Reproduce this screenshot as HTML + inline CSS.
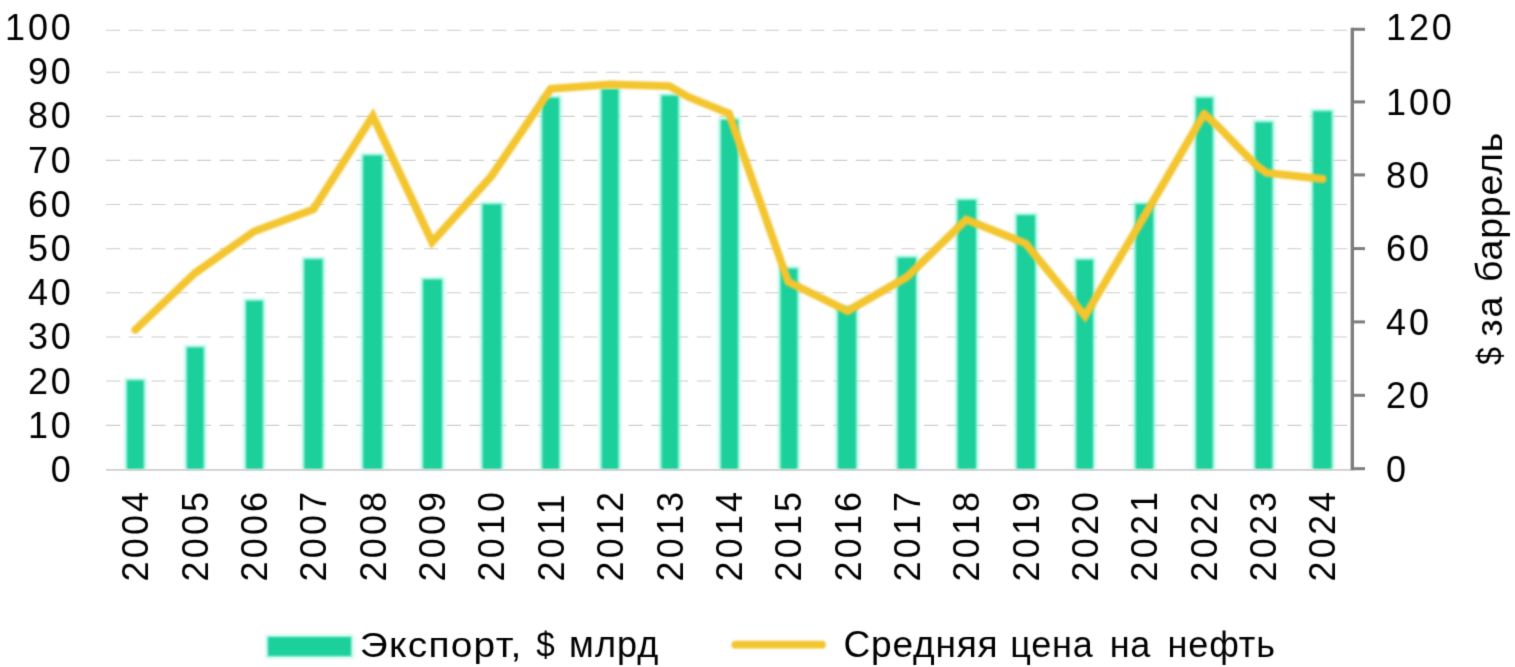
<!DOCTYPE html>
<html><head><meta charset="utf-8"><title>chart</title>
<style>html,body{margin:0;padding:0;background:#fff;overflow:hidden}svg text{font-family:"Liberation Sans", sans-serif}</style></head>
<body>
<svg width="1515" height="667" viewBox="0 0 1515 667" style="display:block">
<rect width="1515" height="667" fill="#fff"/>
<defs><filter id="bg" x="-2%" y="-2%" width="104%" height="104%"><feConvolveMatrix order="3" kernelMatrix="0 1 0 1 4 1 0 1 0" divisor="8" edgeMode="duplicate" preserveAlpha="false"/></filter><filter id="bh" x="-2%" y="-2%" width="104%" height="104%"><feGaussianBlur stdDeviation="1.7"/></filter><filter id="bb" x="-2%" y="-2%" width="104%" height="104%"><feGaussianBlur stdDeviation="0.8"/></filter><filter id="bt" x="-2%" y="-5%" width="104%" height="110%"><feConvolveMatrix order="3" kernelMatrix="0 1 0 1 4 1 0 1 0" divisor="8" edgeMode="duplicate" preserveAlpha="false"/></filter></defs>
<g filter="url(#bg)">
<line x1="106.0" y1="425.3" x2="1350.8" y2="425.3" stroke="#cdcdcd" stroke-width="1.15" stroke-dasharray="14.2 8.52"/>
<line x1="106.0" y1="381.0" x2="1350.8" y2="381.0" stroke="#cdcdcd" stroke-width="1.15" stroke-dasharray="14.2 8.52"/>
<line x1="106.0" y1="337.0" x2="1350.8" y2="337.0" stroke="#cdcdcd" stroke-width="1.15" stroke-dasharray="14.2 8.52"/>
<line x1="106.0" y1="292.7" x2="1350.8" y2="292.7" stroke="#cdcdcd" stroke-width="1.15" stroke-dasharray="14.2 8.52"/>
<line x1="106.0" y1="248.7" x2="1350.8" y2="248.7" stroke="#cdcdcd" stroke-width="1.15" stroke-dasharray="14.2 8.52"/>
<line x1="106.0" y1="204.5" x2="1350.8" y2="204.5" stroke="#cdcdcd" stroke-width="1.15" stroke-dasharray="14.2 8.52"/>
<line x1="106.0" y1="160.3" x2="1350.8" y2="160.3" stroke="#cdcdcd" stroke-width="1.15" stroke-dasharray="14.2 8.52"/>
<line x1="106.0" y1="116.3" x2="1350.8" y2="116.3" stroke="#cdcdcd" stroke-width="1.15" stroke-dasharray="14.2 8.52"/>
<line x1="106.0" y1="72.2" x2="1350.8" y2="72.2" stroke="#cdcdcd" stroke-width="1.15" stroke-dasharray="14.2 8.52"/>
<line x1="106.0" y1="30.2" x2="1350.8" y2="30.2" stroke="#cdcdcd" stroke-width="1.15" stroke-dasharray="14.2 8.52"/>
</g>
<g filter="url(#bh)" fill="#a0f5e0" fill-opacity="0.8">
<rect x="124.50" y="378.20" width="21.70" height="90.80"/>
<rect x="184.40" y="345.20" width="21.70" height="123.80"/>
<rect x="243.50" y="298.60" width="21.70" height="170.40"/>
<rect x="301.80" y="257.00" width="23.20" height="212.00"/>
<rect x="360.70" y="153.20" width="23.90" height="315.80"/>
<rect x="420.60" y="277.20" width="23.90" height="191.80"/>
<rect x="480.10" y="202.00" width="23.70" height="267.00"/>
<rect x="539.80" y="95.60" width="21.80" height="373.40"/>
<rect x="599.20" y="86.80" width="21.70" height="382.20"/>
<rect x="659.00" y="93.40" width="21.70" height="375.60"/>
<rect x="718.40" y="117.60" width="22.00" height="351.40"/>
<rect x="778.10" y="266.40" width="21.70" height="202.60"/>
<rect x="835.40" y="305.60" width="23.20" height="163.40"/>
<rect x="895.20" y="255.40" width="23.20" height="213.60"/>
<rect x="955.20" y="197.80" width="23.30" height="271.20"/>
<rect x="1014.30" y="212.90" width="23.30" height="256.10"/>
<rect x="1073.80" y="257.60" width="21.70" height="211.40"/>
<rect x="1133.20" y="201.90" width="22.50" height="267.10"/>
<rect x="1193.60" y="95.60" width="21.60" height="373.40"/>
<rect x="1252.70" y="120.00" width="22.00" height="349.00"/>
<rect x="1310.60" y="109.00" width="23.60" height="360.00"/>
<rect x="265.8" y="634.8" width="87.4" height="23.4"/>
</g>
<g filter="url(#bb)">
<rect x="126.95" y="380.4" width="16.80" height="88.80" fill="#1fd09b"/>
<rect x="186.85" y="347.4" width="16.80" height="121.80" fill="#1fd09b"/>
<rect x="245.95" y="300.8" width="16.80" height="168.40" fill="#1fd09b"/>
<rect x="304.25" y="259.2" width="18.30" height="210.00" fill="#1fd09b"/>
<rect x="363.15" y="155.4" width="19.00" height="313.80" fill="#1fd09b"/>
<rect x="423.05" y="279.4" width="19.00" height="189.80" fill="#1fd09b"/>
<rect x="482.55" y="204.2" width="18.80" height="265.00" fill="#1fd09b"/>
<rect x="542.25" y="97.8" width="16.90" height="371.40" fill="#1fd09b"/>
<rect x="601.65" y="89.0" width="16.80" height="380.20" fill="#1fd09b"/>
<rect x="661.45" y="95.6" width="16.80" height="373.60" fill="#1fd09b"/>
<rect x="720.85" y="119.8" width="17.10" height="349.40" fill="#1fd09b"/>
<rect x="780.55" y="268.6" width="16.80" height="200.60" fill="#1fd09b"/>
<rect x="837.85" y="307.8" width="18.30" height="161.40" fill="#1fd09b"/>
<rect x="897.65" y="257.6" width="18.30" height="211.60" fill="#1fd09b"/>
<rect x="957.65" y="200.0" width="18.40" height="269.20" fill="#1fd09b"/>
<rect x="1016.75" y="215.1" width="18.40" height="254.10" fill="#1fd09b"/>
<rect x="1076.25" y="259.8" width="16.80" height="209.40" fill="#1fd09b"/>
<rect x="1135.65" y="204.1" width="17.60" height="265.10" fill="#1fd09b"/>
<rect x="1196.05" y="97.8" width="16.70" height="371.40" fill="#1fd09b"/>
<rect x="1255.15" y="122.2" width="17.10" height="347.00" fill="#1fd09b"/>
<rect x="1313.05" y="111.2" width="18.70" height="358.00" fill="#1fd09b"/>
</g>
<g filter="url(#bg)">
<line x1="106.0" y1="469.8" x2="1352.3" y2="469.8" stroke="#cdcdcd" stroke-width="1.7"/>
<line x1="1352.3" y1="27.8" x2="1352.3" y2="470.2" stroke="#7e7e7e" stroke-width="3.4"/>
<line x1="1352.3" y1="468.7" x2="1365" y2="468.7" stroke="#7e7e7e" stroke-width="3"/>
<line x1="1352.3" y1="395.3" x2="1365" y2="395.3" stroke="#7e7e7e" stroke-width="3"/>
<line x1="1352.3" y1="321.9" x2="1365" y2="321.9" stroke="#7e7e7e" stroke-width="3"/>
<line x1="1352.3" y1="248.6" x2="1365" y2="248.6" stroke="#7e7e7e" stroke-width="3"/>
<line x1="1352.3" y1="174.9" x2="1365" y2="174.9" stroke="#7e7e7e" stroke-width="3"/>
<line x1="1352.3" y1="101.9" x2="1365" y2="101.9" stroke="#7e7e7e" stroke-width="3"/>
<line x1="1352.3" y1="29.3" x2="1365" y2="29.3" stroke="#7e7e7e" stroke-width="3"/>
</g>
<g filter="url(#bb)">
<polyline points="135.3,329.8 194.7,273.2 254.1,231.4 313.4,209.3 372.8,116.0 432.1,242.0 491.5,176.0 550.8,88.8 610.1,84.4 669.5,86.2 688.0,96.8 728.9,113.5 788.2,281.8 847.6,311.0 906.9,277.0 966.2,219.6 1025.6,243.4 1085.0,316.0 1144.3,216.2" fill="none" stroke="#f3c52e" stroke-width="7.8" stroke-linejoin="miter" stroke-miterlimit="6" stroke-linecap="round"/>
<polyline points="1144.3,216.2 1204.2,113.8 1219.4,127.6 1241.0,150.0 1258.0,166.8 1266.5,172.8 1322.6,179.0" fill="none" stroke="#f3c52e" stroke-width="7.8" stroke-linejoin="round" stroke-linecap="round"/>
</g>
<g font-family='"Liberation Sans", sans-serif' font-size="36" fill="#050505" stroke="#fff" stroke-width="0" filter="url(#bt)">
<text transform="translate(50.80 481.90)" letter-spacing="2.880">0</text>
<text transform="translate(27.90 437.70)" letter-spacing="2.880">10</text>
<text transform="translate(27.90 393.50)" letter-spacing="2.880">20</text>
<text transform="translate(27.90 349.30)" letter-spacing="2.880">30</text>
<text transform="translate(27.90 305.10)" letter-spacing="2.880">40</text>
<text transform="translate(27.90 260.90)" letter-spacing="2.880">50</text>
<text transform="translate(27.90 216.70)" letter-spacing="2.880">60</text>
<text transform="translate(27.90 172.50)" letter-spacing="2.880">70</text>
<text transform="translate(27.90 128.30)" letter-spacing="2.880">80</text>
<text transform="translate(27.90 84.10)" letter-spacing="2.880">90</text>
<text transform="translate(5.00 39.90)" letter-spacing="2.880">100</text>
<text transform="translate(1386.00 481.80)" letter-spacing="2.880">0</text>
<text transform="translate(1386.00 408.30)" letter-spacing="2.880">20</text>
<text transform="translate(1386.00 334.80)" letter-spacing="2.880">40</text>
<text transform="translate(1386.00 261.40)" letter-spacing="2.880">60</text>
<text transform="translate(1386.00 188.00)" letter-spacing="2.880">80</text>
<text transform="translate(1386.00 115.10)" letter-spacing="2.880">100</text>
<text transform="translate(1386.00 39.90)" letter-spacing="2.880">120</text>
<text transform="translate(148.35 581.50) rotate(-90)" letter-spacing="3.180">2004</text>
<text transform="translate(207.70 581.50) rotate(-90)" letter-spacing="3.180">2005</text>
<text transform="translate(267.05 581.50) rotate(-90)" letter-spacing="3.180">2006</text>
<text transform="translate(326.40 581.50) rotate(-90)" letter-spacing="3.180">2007</text>
<text transform="translate(385.75 581.50) rotate(-90)" letter-spacing="3.180">2008</text>
<text transform="translate(445.10 581.50) rotate(-90)" letter-spacing="3.180">2009</text>
<text transform="translate(504.45 581.50) rotate(-90)" letter-spacing="3.180">2010</text>
<text transform="translate(563.80 581.50) rotate(-90)" letter-spacing="3.180">2011</text>
<text transform="translate(623.15 581.50) rotate(-90)" letter-spacing="3.180">2012</text>
<text transform="translate(682.50 581.50) rotate(-90)" letter-spacing="3.180">2013</text>
<text transform="translate(741.85 581.50) rotate(-90)" letter-spacing="3.180">2014</text>
<text transform="translate(801.20 581.50) rotate(-90)" letter-spacing="3.180">2015</text>
<text transform="translate(860.55 581.50) rotate(-90)" letter-spacing="3.180">2016</text>
<text transform="translate(919.90 581.50) rotate(-90)" letter-spacing="3.180">2017</text>
<text transform="translate(979.25 581.50) rotate(-90)" letter-spacing="3.180">2018</text>
<text transform="translate(1038.60 581.50) rotate(-90)" letter-spacing="3.180">2019</text>
<text transform="translate(1097.95 581.50) rotate(-90)" letter-spacing="3.180">2020</text>
<text transform="translate(1157.30 581.50) rotate(-90)" letter-spacing="3.180">2021</text>
<text transform="translate(1216.65 581.50) rotate(-90)" letter-spacing="3.180">2022</text>
<text transform="translate(1276.00 581.50) rotate(-90)" letter-spacing="3.180">2023</text>
<text transform="translate(1335.35 581.50) rotate(-90)" letter-spacing="3.180">2024</text>
<text transform="translate(1502.00 364.90) rotate(-90) scale(0.8950 1)">$</text>
<text transform="translate(1502.00 336.54) rotate(-90) scale(1.0400 1)" letter-spacing="1.692">за</text>
<text transform="translate(1502.00 281.98) rotate(-90) scale(1.0400 1)" letter-spacing="0.827">баррель</text>
<text transform="translate(359.84 656.90) scale(1.0800 1)" letter-spacing="1.169">Экспорт,</text>
<text transform="translate(536.30 656.90) scale(0.9250 1)">$</text>
<text transform="translate(569.10 656.90) scale(1.0000 1)" letter-spacing="1.067">млрд</text>
<text transform="translate(843.57 656.90) scale(1.0300 1)" letter-spacing="0.751">Средняя</text>
<text transform="translate(1010.20 656.90) scale(1.0000 1)" letter-spacing="0.800">цена</text>
<text transform="translate(1109.80 656.90) scale(1.0000 1)" letter-spacing="0.500">на</text>
<text transform="translate(1167.50 656.90) scale(1.0000 1)" letter-spacing="0.875">нефть</text>
</g>
<g filter="url(#bb)">
<rect x="268" y="637" width="83" height="19" fill="#1fd09b"/>
<line x1="735.3" y1="644.7" x2="822" y2="644.7" stroke="#f3c52e" stroke-width="7.8" stroke-linecap="round"/>
</g>
</svg>
</body></html>
